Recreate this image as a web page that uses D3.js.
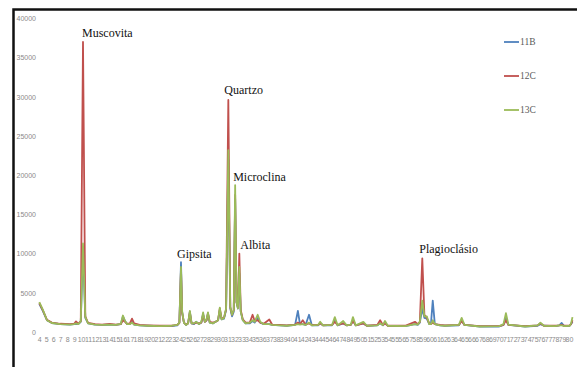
<!DOCTYPE html>
<html>
<head>
<meta charset="utf-8">
<script src="https://cdn.jsdelivr.net/npm/d3@7"></script>
<style>
  body { margin: 0; background: #fff; }
  svg { display: block; }
</style>
</head>
<body>
<div id="chart"></div>
<script>
// 2theta positions shared by all samples
const angles = [
  4.0, 4.5, 5.1, 5.8, 7.0, 8.4, 9.0, 9.27, 9.6, 9.95, 10.27, 10.6, 11.0, 12.0, 13.0, 14.1, 15.0, 15.7, 16.0, 16.3,
  16.6, 17.0, 17.3, 17.6, 18.4, 19.5, 21.3, 23.0, 23.8, 24.1, 24.33, 24.5, 24.75, 25.05, 25.35, 25.6, 25.85, 26.2, 26.5, 26.9,
  27.25, 27.5, 27.75, 28.0, 28.2, 28.45, 28.9, 29.3, 29.65, 29.9, 30.15, 30.5, 30.8, 31.12, 31.4, 31.65, 31.9, 32.1, 32.3, 32.5,
  32.7, 32.9, 33.2, 33.6, 34.2, 34.6, 34.9, 35.33, 35.7, 36.2, 37.0, 37.4, 38.5, 39.5, 40.7, 41.1, 41.4, 41.8, 42.2, 42.7,
  43.1, 44.0, 44.3, 44.7, 46.0, 46.4, 46.8, 47.6, 48.1, 48.7, 49.0, 49.4, 50.5, 51.0, 52.5, 52.9, 53.3, 53.6, 54.0, 56.5,
  57.9, 58.3, 58.6, 58.95, 59.25, 59.6, 59.95, 60.2, 60.45, 60.75, 61.5, 62.2, 64.2, 64.6, 65.0, 67.2, 70.0, 70.6, 70.95, 71.3,
  73.7, 75.5, 75.9, 76.4, 78.0, 78.6, 78.95, 79.3, 80.1, 80.3, 80.5
];

const counts11B = [
  3600, 2700, 1500, 1150, 1000, 950, 1000, 1050, 1000, 1300, 10500, 1800, 1100, 950, 900, 950, 900, 1000, 2000, 1400,
  1000, 1000, 1300, 950, 850, 800, 750, 750, 850, 1200, 8900, 2500, 1200, 900, 1100, 2600, 1100, 1000, 1300, 1000,
  1200, 2300, 1300, 1500, 2300, 1200, 1100, 1300, 1500, 2800, 1600, 1700, 2800, 22000, 3000, 2000, 2600, 17000, 3800, 3000,
  7500, 2600, 1500, 1100, 1100, 1400, 1200, 1800, 1200, 1000, 1000, 900, 850, 800, 900, 2700, 1000, 1000, 900, 2200,
  850, 850, 1100, 850, 850, 1500, 850, 1100, 850, 900, 1500, 850, 1100, 800, 850, 1100, 850, 1200, 800, 750,
  1000, 900, 1200, 3000, 1800, 1700, 1000, 1100, 4000, 1000, 850, 800, 850, 1500, 900, 700, 700, 900, 1800, 900,
  700, 800, 1000, 800, 750, 850, 1150, 750, 800, 1000, 1300
];

const counts12C = [
  3700, 2800, 1550, 1200, 1050, 1000, 1050, 1350, 1050, 1400, 37000, 2000, 1150, 1000, 950, 1050, 950, 1000, 1500, 1300,
  1050, 1100, 1700, 1100, 900, 850, 800, 800, 900, 1150, 8000, 2400, 1200, 950, 1100, 2500, 1100, 1100, 1200, 1100,
  1200, 2200, 1300, 1500, 2400, 1300, 1200, 1300, 1500, 3000, 1700, 1800, 2900, 29600, 3200, 2200, 2800, 17500, 3800, 3200,
  10000, 2800, 1600, 1200, 1200, 2200, 1400, 1500, 1200, 1050, 1600, 950, 900, 850, 950, 1200, 1000, 1500, 950, 1100,
  900, 900, 1100, 850, 900, 1300, 900, 1100, 850, 900, 1400, 850, 1100, 800, 900, 1500, 900, 1100, 800, 800,
  1300, 1000, 1300, 9400, 2200, 1800, 1100, 1000, 1200, 1000, 900, 850, 900, 1400, 900, 750, 750, 900, 1500, 900,
  750, 850, 1100, 800, 800, 850, 900, 800, 850, 1000, 1500
];

const counts13C = [
  3800, 2850, 1500, 1150, 1000, 950, 1000, 1100, 1000, 1350, 11300, 1900, 1100, 950, 900, 950, 900, 1050, 2100, 1400,
  1000, 1000, 1200, 950, 850, 800, 750, 800, 900, 1200, 8300, 2600, 1200, 900, 1100, 2700, 1100, 1100, 1300, 1000,
  1300, 2500, 1300, 1600, 2500, 1200, 1100, 1300, 1500, 3100, 1600, 1800, 3000, 23200, 3200, 2200, 2800, 18750, 3800, 3000,
  8300, 2600, 1500, 1100, 1200, 1500, 1300, 2200, 1300, 1000, 1000, 900, 850, 800, 900, 1000, 950, 1000, 900, 1200,
  850, 900, 1300, 850, 900, 1900, 850, 1400, 850, 950, 1900, 850, 1300, 800, 850, 1100, 900, 1400, 800, 750,
  1000, 950, 1300, 4000, 2000, 2000, 1000, 1000, 1500, 1000, 850, 800, 900, 1800, 900, 700, 750, 1000, 2400, 950,
  700, 850, 1200, 800, 750, 850, 850, 750, 800, 1100, 1900
];

const seriesNames = ["11B", "12C", "13C"];
const seriesColors = ["#4f81bd", "#c0504d", "#9bbb59"];
const yTicks = [0, 5000, 10000, 15000, 20000, 25000, 30000, 35000, 40000];
const xTicks = d3.range(4, 81);

const labelText = ["Muscovita", "Gipsita", "Quartzo", "Microclina", "Albita", "Plagioclásio"];
const labelAngle = [10.27, 24.33, 31.12, 32.1, 32.7, 58.95];
const labelValue = [37000, 8900, 29600, 18750, 10000, 9400];

const width = 577, height = 367;

const svg = d3.select("#chart").append("svg")
  .attr("width", width)
  .attr("height", height);

svg.append("rect").attr("width", width).attr("height", height).attr("fill", "#fff");

// dark frame on top and left edges
svg.append("path")
  .attr("d", "M13.5,367 L13.5,9.5 L577,9.5")
  .attr("fill", "none")
  .attr("stroke", "#111")
  .attr("stroke-width", 2.5);

const x = d3.scaleLinear().domain([4, 80]).range([39.3, 569]);
const y = d3.scaleLinear().domain([0, 40000]).range([332, 18.5]);

// x axis
const gx = svg.append("g")
  .attr("transform", "translate(0,332)")
  .call(d3.axisBottom(x).tickValues(xTicks).tickSize(0).tickPadding(5).tickFormat(d3.format("d")));
gx.select(".domain").remove();
gx.selectAll("text")
  .attr("font-family", "Liberation Sans, Arial, sans-serif")
  .attr("font-size", 7)
  .attr("fill", "#8a8a8a");

// y axis
const gy = svg.append("g")
  .attr("transform", "translate(36,0)")
  .call(d3.axisLeft(y).tickValues(yTicks).tickSize(0).tickPadding(0).tickFormat(d3.format("d")));
gy.select(".domain").remove();
gy.selectAll("text")
  .attr("font-family", "Liberation Sans, Arial, sans-serif")
  .attr("font-size", 7)
  .attr("fill", "#8a8a8a");

// lines
const allCounts = [counts11B, counts12C, counts13C];
const line = d3.line()
  .x((d, i) => x(angles[i]))
  .y(d => y(d));

allCounts.forEach((c, k) => {
  svg.append("path")
    .datum(c)
    .attr("fill", "none")
    .attr("stroke", seriesColors[k])
    .attr("stroke-width", 1.8)
    .attr("stroke-linejoin", "round")
    .attr("d", line);
});

// mineral labels, nudged off their peaks
const labelDx = [-1, -4, -4, -2, 1, -3];
const labelDy = [-5, -4, -6.4, -4, -4.6, -5];
svg.selectAll(".mineral")
  .data(labelText)
  .enter().append("text")
  .attr("class", "mineral")
  .attr("x", (d, i) => x(labelAngle[i]) + labelDx[i])
  .attr("y", (d, i) => y(labelValue[i]) + labelDy[i])
  .attr("font-family", "Liberation Serif, Times New Roman, serif")
  .attr("font-size", 12)
  .attr("fill", "#111")
  .text(d => d);

// legend
const legend = svg.append("g");
seriesNames.forEach((name, k) => {
  const ly = 42 + k * 34;
  legend.append("line")
    .attr("x1", 504).attr("x2", 519)
    .attr("y1", ly).attr("y2", ly)
    .attr("stroke", seriesColors[k])
    .attr("stroke-width", 1.8);
  legend.append("text")
    .attr("x", 520)
    .attr("y", ly + 3)
    .attr("font-family", "Liberation Serif, Times New Roman, serif")
    .attr("font-size", 9.5)
    .attr("fill", "#595959")
    .text(name);
});
</script>
</body>
</html>
